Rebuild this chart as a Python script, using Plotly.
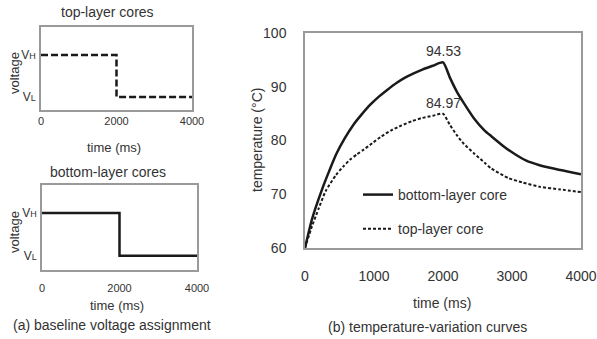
import plotly.graph_objects as go

# ---- data ----
volt_time = [0, 2000, 2000, 4000]
top_volt = [1, 1, 0, 0]        # VH -> VL
bottom_volt = [1, 1, 0, 0]
volt_ticks = [0, 1]
volt_ticklabels = ["V<span style='font-size:9px'>L</span>", "V<span style='font-size:9px'>H</span>"]
time_ticks_left = [0, 2000, 4000]

bottom_t = [0, 100, 250, 350, 450, 575, 700, 825, 950, 1075, 1200, 1325, 1450, 1575, 1700, 1850, 2000,
            2100, 2200, 2300, 2450, 2600, 2700, 2900, 3050, 3200, 3400, 3700, 4000]
bottom_T = [60, 65.3, 71.0, 74.3, 77.4, 80.4, 82.9, 84.9, 86.7, 88.2, 89.5, 90.7, 91.7, 92.5, 93.2, 93.9, 94.53,
            91.7, 89.1, 87.0, 84.1, 81.9, 80.8, 78.7, 77.4, 76.3, 75.4, 74.5, 73.7]
top_t = [0, 100, 200, 300, 450, 550, 650, 750, 850, 975, 1100, 1250, 1400, 1550, 1700, 1850, 2000,
         2100, 2200, 2300, 2450, 2600, 2700, 2950, 3150, 3400, 3700, 4000]
top_T = [60, 64.0, 67.4, 70.6, 73.6, 75.1, 76.4, 77.4, 78.3, 79.5, 80.7, 81.9, 82.8, 83.6, 84.2, 84.6, 84.97,
         82.9, 81.0, 79.4, 77.6, 75.9, 74.8, 73.0, 72.2, 71.4, 70.9, 70.4]
peak_labels = [(2000, 94.53, "94.53"), (2000, 84.97, "84.97")]
time_ticks_right = [0, 1000, 2000, 3000, 4000]
temp_ticks = [60, 70, 80, 90, 100]

W, H = 597, 339
FONT = "Arial"
INK = "#1a1a1a"
BOX = "#9a9a9a"
TXT = "#333"

def px(x):
    return x / W

def py(y):
    return 1 - y / H

fig = go.Figure()

fig.add_trace(go.Scatter(x=volt_time, y=top_volt, mode="lines", xaxis="x", yaxis="y",
                         line=dict(color=INK, width=2.5, dash="7px,3px"), showlegend=False))
fig.add_trace(go.Scatter(x=volt_time, y=bottom_volt, mode="lines", xaxis="x2", yaxis="y2",
                         line=dict(color=INK, width=2.5), showlegend=False))
fig.add_trace(go.Scatter(x=bottom_t, y=bottom_T, mode="lines", xaxis="x3", yaxis="y3",
                         line=dict(color=INK, width=2.5, shape="spline", smoothing=0.6),
                         name="bottom-layer core", legendgroup="b"))
fig.add_trace(go.Scatter(x=top_t, y=top_T, mode="lines", xaxis="x3", yaxis="y3",
                         line=dict(color=INK, width=2, dash="3px,2px", shape="spline", smoothing=0.6),
                         name="top-layer core", legendgroup="t"))

def ax(size, standoff, **kw):
    d = dict(showgrid=False, zeroline=False, showline=True, mirror=True, automargin=False,
             linecolor=BOX, linewidth=1.5, ticks="", ticklen=0, ticklabelstandoff=standoff,
             tickfont=dict(family=FONT, size=size, color=TXT))
    d.update(kw)
    return d

fig.update_layout(
    width=W, height=H, margin=dict(l=0, r=0, t=0, b=0),
    paper_bgcolor="white", plot_bgcolor="white",
    font=dict(family=FONT, color=TXT),
    xaxis=ax(11, 0, domain=[px(41), px(192)], range=[0, 4000], tickvals=time_ticks_left, anchor="y"),
    yaxis=ax(12, 1, domain=[py(110), py(27)], range=[-0.31, 1.67], tickvals=volt_ticks,
             ticktext=volt_ticklabels, anchor="x"),
    xaxis2=ax(11, 7, domain=[px(42), px(197)], range=[0, 4000], tickvals=time_ticks_left, anchor="y2"),
    yaxis2=ax(12, 1, domain=[py(270), py(185)], range=[-0.33, 1.65], tickvals=volt_ticks,
              ticktext=volt_ticklabels, anchor="x2"),
    xaxis3=ax(14, 14, domain=[px(305), px(581)], range=[0, 4000], tickvals=time_ticks_right, anchor="y3"),
    yaxis3=ax(14, 14, domain=[py(248), py(33)], range=[60, 100], tickvals=temp_ticks, anchor="x3"),
    legend=dict(x=px(358), y=py(179), xanchor="left", yanchor="top", bgcolor="rgba(0,0,0,0)",
                font=dict(family=FONT, size=14, color=TXT), itemwidth=30, tracegroupgap=13),
    showlegend=True,
)

for (t, T, label) in peak_labels:
    fig.add_annotation(x=t, y=T, xref="x3", yref="y3", text=label, showarrow=False,
                       yshift=11, font=dict(family=FONT, size=14, color=TXT))

texts = [
    ("top-layer cores", 107, 12, 14, 0),
    ("bottom-layer cores", 108, 172, 14, 0),
    ("time (ms)", 114, 147, 13, 0),
    ("time (ms)", 117, 305, 13, 0),
    ("voltage", 14, 73, 13, -90),
    ("voltage", 14, 232, 13, -90),
    ("(a) baseline voltage assignment", 112, 325, 14, 0),
    ("time (ms)", 442, 303, 14, 0),
    ("(b) temperature-variation curves", 427, 327, 14, 0),
    ("temperature (\u00b0C)", 257, 140, 14, -90),
]
for (s, x, y, size, ang) in texts:
    fig.add_annotation(x=px(x), y=py(y), xref="paper", yref="paper", text=s, showarrow=False,
                       xanchor="center", yanchor="middle", textangle=ang,
                       font=dict(family=FONT, size=size, color=TXT))

fig.write_html("out.html", config={"displayModeBar": False},
               post_script="document.body.style.margin='0';document.body.style.padding='0';")
